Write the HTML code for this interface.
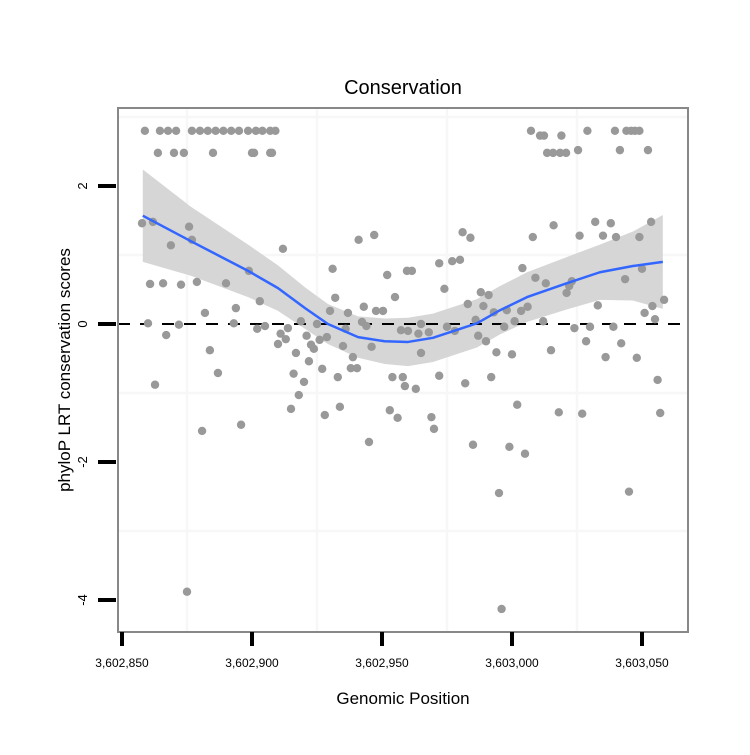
<!DOCTYPE html>
<html><head><meta charset="utf-8"><style>
body{margin:0;background:#fff}
svg text{font-family:"Liberation Sans",Arial,sans-serif}
</style></head><body>
<svg id="chart" width="750" height="750"></svg>
<script>
const posOffsets=[8.8,14.6,17.7,20.8,26.9,30,33,36,39,42,45,48.5,51.5,54,57,59,
13.8,20,23.8,35,50,50.8,57,57.7,
157.3,160.8,162.3,169,179,189.6,194,195.8,197.3,199,
163.5,165.8,168.5,170.8,175.4,191.5,202.3,
7.7,11.9,25.8,26.9,18.8,61.9,91,97,102,109.6,81,48.8,10.8,15.8,22.7,28.8,40,53,82,105,43.8,31.9,80,86.9,93,97.7,100.4,
10,21.9,43,68.8,75,92.3,94,86,107.3,17,52,55,63.8,61,63,60,71,78.8,76,72.7,73.8,33.8,66.9,85,96,88.8,71.9,88,90.4,77,36.9,66,83,104,108,
12.7,70,68,65,78,83.8,30.8,45.8,95,103,106,25,108.8,
113,122,115,119,120,132,142,135,144,150,165,149,155,152,168,177,145,195,146,207,206,178.5,186,192,198,174,180,189,162,147,151,140,137,205,201,204,183,115,110,114,118,125,128,
111.5,122,127,130,124,131,134,138,141,133,139,143,148,153.5,156,136,154,159,163,173,172,171,158,166,176,182,188,185,190,199,203.5,193.5,200,208.5];
const scores=[2.8,2.8,2.8,2.8,2.8,2.8,2.8,2.8,2.8,2.8,2.8,2.8,2.8,2.8,2.8,2.8,
2.48,2.48,2.48,2.48,2.48,2.48,2.48,2.48,
2.8,2.73,2.73,2.73,2.8,2.8,2.8,2.8,2.8,2.8,
2.48,2.48,2.48,2.48,2.52,2.52,2.52,
1.46,1.48,1.41,1.22,1.14,1.09,1.22,1.29,0.71,0.77,0.8,0.77,0.58,0.59,0.57,0.61,0.59,0.33,0.38,0.39,0.23,0.16,0.19,0.16,0.25,0.19,0.19,
0.01,-0.01,0.01,0.04,0,0.03,-0.03,-0.07,-0.09,-0.16,-0.07,-0.03,-0.06,-0.14,-0.22,-0.29,-0.17,-0.19,-0.23,-0.3,-0.36,-0.38,-0.42,-0.32,-0.33,-0.48,-0.54,-0.64,-0.64,-0.65,-0.71,-0.72,-0.77,-0.77,-0.77,
-0.88,-0.84,-1.03,-1.23,-1.32,-1.2,-1.55,-1.46,-1.71,-1.25,-1.36,-3.88,-0.9,
-0.94,-0.75,-0.42,-1.35,-1.52,-0.86,-0.77,-1.75,-0.41,-0.44,-0.38,-1.78,-1.88,-1.17,-1.28,-1.3,-2.45,-2.43,-4.13,-1.29,-0.81,-0.25,-0.48,-0.28,-0.49,-0.06,-0.04,-0.04,0.04,-0.04,0.04,-0.25,-0.17,0.07,0.16,0.26,0.27,0,-0.1,-0.14,-0.12,-0.04,-0.1,
0.77,0.88,0.91,0.93,0.51,1.33,1.25,0.46,0.42,0.29,0.26,0.17,0.2,0.19,0.25,0.06,0.81,0.67,0.59,0.62,0.55,0.45,1.26,1.43,1.28,1.48,1.46,1.28,1.26,1.26,1.48,0.65,0.8,0.35];
const smoothX=[8,26.5,48.5,60,70.4,79.2,90.8,101,110,119.6,136.5,145.4,155.8,171,183.8,196.5,208];
const smoothY=[1.57,1.2,0.77,0.52,0.23,0,-0.19,-0.25,-0.26,-0.2,0.01,0.2,0.39,0.59,0.75,0.84,0.9];
const smoothSE=[0.67,0.5,0.38,0.33,0.3,0.29,0.3,0.33,0.35,0.35,0.35,0.35,0.36,0.38,0.4,0.5,0.68];
const xTicks=[3602850,3602900,3602950,3603000,3603050];
const xTickLabels=["3,602,850","3,602,900","3,602,950","3,603,000","3,603,050"];
const yTicks=[2,0,-2,-4];
const BASE=3602850;
const NS="http://www.w3.org/2000/svg";
const svg=document.getElementById('chart');
const X=p=>122+(p-BASE)*2.6;
const Y=v=>324-v*69;
function el(t,a,parent){const e=document.createElementNS(NS,t);for(const k in a)e.setAttribute(k,a[k]);(parent||svg).appendChild(e);return e;}
[-3,-1,1,3].forEach(v=>{const g=el('line',{x1:118,x2:688,y1:Y(v),y2:Y(v),stroke:'#f7f7f7','stroke-width':2.5});

});
[25,75,125,175].forEach(o=>{const g=el('line',{y1:108,y2:632,x1:X(BASE+o),x2:X(BASE+o),stroke:'#f7f7f7','stroke-width':2.5});

});
let up=smoothX.map((o,i)=>X(BASE+o)+','+Y(smoothY[i]+smoothSE[i]));
let lo=smoothX.map((o,i)=>X(BASE+o)+','+Y(smoothY[i]-smoothSE[i])).reverse();
const rib=el('polygon',{points:up.concat(lo).join(' '),fill:'#d6d6d6'});


const z=el('line',{x1:118,x2:688,y1:Y(0),y2:Y(0),stroke:'#000','stroke-width':2,'stroke-dasharray':'12,10'});


posOffsets.forEach((o,i)=>{const c=el('circle',{cx:X(BASE+o),cy:Y(scores[i]),r:4.2,fill:'#999'});

});
const sl=el('polyline',{points:smoothX.map((o,i)=>X(BASE+o)+','+Y(smoothY[i])).join(' '),fill:'none',stroke:'#3366ff','stroke-width':2.5,'stroke-linejoin':'round'});


const pb=el('rect',{x:118,y:108,width:570,height:524,fill:'none',stroke:'#888','stroke-width':2});


xTicks.forEach((t,i)=>{const l=el('line',{x1:X(t),x2:X(t),y1:632,y2:646,stroke:'#000','stroke-width':4});


const tx=el('text',{x:X(t),y:667,'text-anchor':'middle','font-size':12});tx.textContent=xTickLabels[i];

});
yTicks.forEach(v=>{const l=el('line',{x1:98,x2:116,y1:Y(v),y2:Y(v),stroke:'#000','stroke-width':4});


const tx=el('text',{x:0,y:0,'text-anchor':'middle','font-size':13,transform:`translate(87,${Y(v)}) rotate(-90)`});tx.textContent=String(v);

});
const ti=el('text',{x:403,y:94,'text-anchor':'middle','font-size':20});ti.textContent='Conservation';


const xl=el('text',{x:403,y:704,'text-anchor':'middle','font-size':17});xl.textContent='Genomic Position';


const yl=el('text',{x:0,y:0,'text-anchor':'middle','font-size':17,transform:'translate(70,370) rotate(-90)'});yl.textContent='phyloP LRT conservation scores';


</script>
</body></html>
